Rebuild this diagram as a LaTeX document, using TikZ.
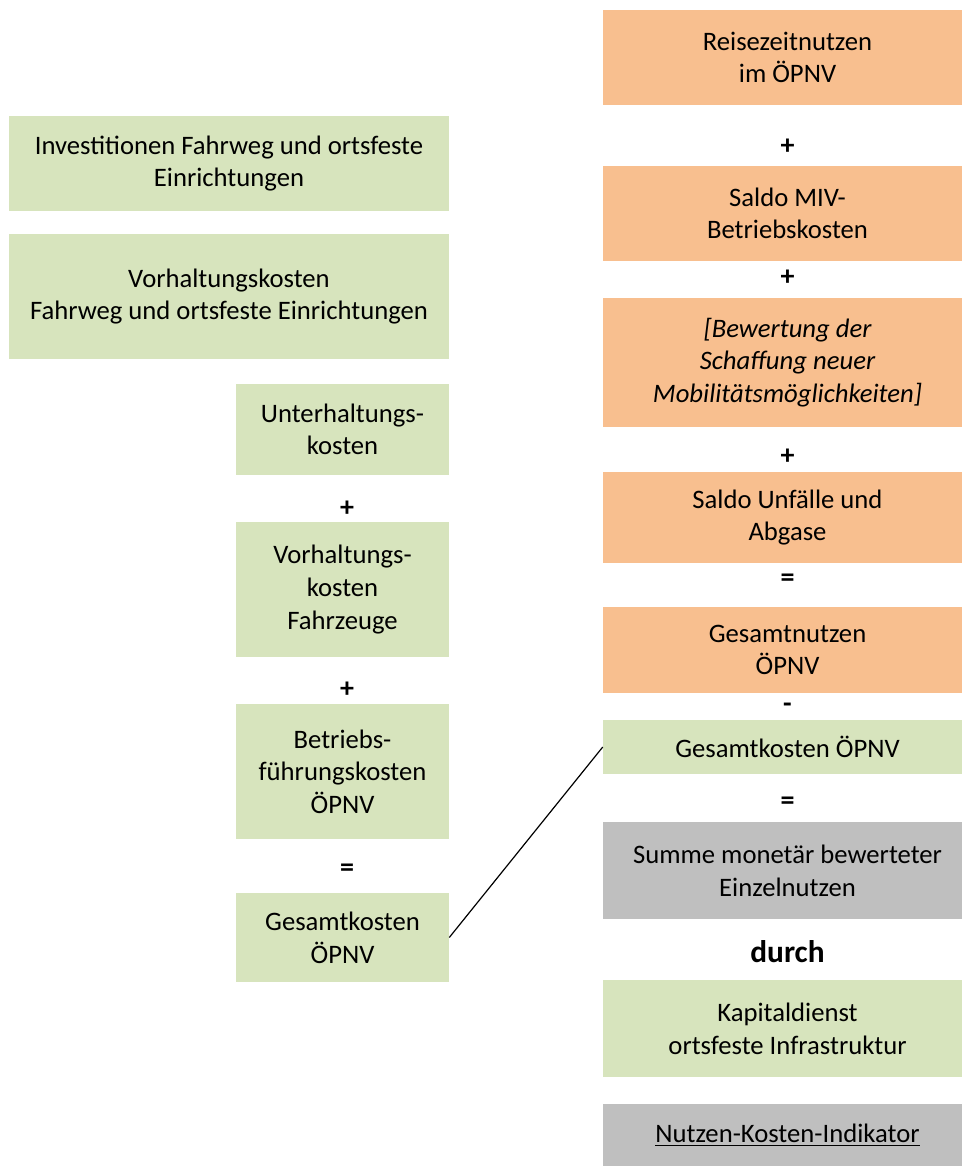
\documentclass[tikz,border=0pt]{standalone}
\usepackage{fontspec}
\setmainfont{Carlito}
\definecolor{grn}{HTML}{D7E4BD}
\definecolor{org}{HTML}{F8BF8F}
\definecolor{gry}{HTML}{BFBFBF}
\begin{document}
\begin{tikzpicture}[x=0.75pt,y=-0.75pt,
  sz/.style 2 args={minimum width={#1*0.75pt}, minimum height={#2*0.75pt}},
  base/.style={inner sep=0pt, align=center, font=\fontsize{20pt}{24.5pt}\selectfont},
  gbox/.style={base, fill=grn},
  obox/.style={base, fill=org},
  ybox/.style={base, fill=gry},
  op/.style={inner sep=0pt, font=\fontsize{21pt}{24pt}\selectfont\bfseries},
  link/.style={draw=black, line width=0.9pt}]
\useasboundingbox (0,0) rectangle (962,1166);
% left column
\node[gbox, sz={440}{95}] (inv) at (229,163.5) {Investitionen Fahrweg und ortsfeste\\Einrichtungen};
\node[gbox, sz={440}{125}] (vorh) at (229,296.5) {Vorhaltungskosten\\Fahrweg und ortsfeste Einrichtungen};
\node[gbox, sz={213}{91}] (unt) at (342.5,429.5) {Unterhaltungs-\\kosten};
\node[op] (p1) at (347,509) {+};
\node[gbox, sz={213}{135}] (vfz) at (342.5,589.5) {Vorhaltungs-\\kosten\\Fahrzeuge};
\node[op] (p2) at (347,690) {+};
\node[gbox, sz={213}{135}] (betr) at (342.5,771.5) {Betriebs-\\führungskosten\\ÖPNV};
\node[op] (e1) at (347,870) {=};
\node[gbox, sz={213}{89}] (gkl) at (342.5,937.5) {Gesamtkosten\\ÖPNV};
% right column
\node[obox, sz={369}{95}] (reise) at (787.5,57.5) {Reisezeitnutzen\\im ÖPNV};
\node[op] (p3) at (787.5,147) {+};
\node[obox, sz={369}{95}] (miv) at (787.5,213.5) {Saldo MIV-\\Betriebskosten};
\node[op] (p4) at (787.5,278) {+};
\node[obox, sz={369}{129}] (bew) at (787.5,362.5) {\itshape [Bewertung der\\\itshape Schaffung neuer\\\itshape Mobilitätsmöglichkeiten]};
\node[op] (p5) at (787.5,457) {+};
\node[obox, sz={369}{91}] (unf) at (787.5,517.5) {Saldo Unfälle und\\Abgase};
\node[op] (e2) at (787.5,580) {=};
\node[obox, sz={369}{86}] (gn) at (787.5,650) {Gesamtnutzen\\ÖPNV};
\node[op] (m1) at (787.5,708) {-};
\node[gbox, sz={369}{54}] (gkr) at (787.5,747) {Gesamtkosten ÖPNV};
\node[op] (e3) at (787.5,803) {=};
\node[ybox, sz={369}{97}] (sum) at (787.5,870.5) {Summe monetär bewerteter\\Einzelnutzen};
\node[inner sep=0pt, font=\fontsize{23.5pt}{28pt}\selectfont\bfseries] (durch) at (787.5,952) {durch};
\node[gbox, sz={369}{97}] (kap) at (787.5,1028.5) {Kapitaldienst\\ortsfeste Infrastruktur};
\node[ybox, sz={369}{62}] (nki) at (787.5,1135) {\underline{Nutzen-Kosten-Indikator}};
% connector
\draw[link] (gkl.east) -- (gkr.west);
\end{tikzpicture}
\end{document}
